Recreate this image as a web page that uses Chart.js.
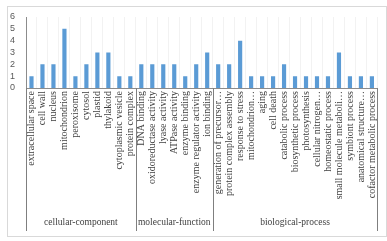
<!DOCTYPE html>
<html>
<head>
<meta charset="utf-8">
<script src="https://cdn.jsdelivr.net/npm/chart.js@4.4.0/dist/chart.umd.min.js"></script>
<style>
  html, body { margin: 0; padding: 0; background: #fff; }
  #wrap { width: 387px; height: 241px; }
</style>
</head>
<body>
<div id="wrap"><canvas id="chart" width="387" height="241"></canvas></div>
<script>
// 类别与数值
const categories = [
    'extracellular space', 'cell wall', 'nucleus', 'mitochondrion', 'peroxisome',
    'cytosol', 'plastid', 'thylakoid', 'cytoplasmic vesicle', 'protein complex',
    'DNA binding', 'oxidoreductase activity', 'lyase activity', 'ATPase activity',
    'enzyme binding', 'enzyme regulator activity', 'ion binding',
    'generation of precursor…', 'protein complex assembly', 'response to stress',
    'mitochondrion…', 'aging', 'cell death', 'catabolic process',
    'biosynthetic process', 'photosynthesis', 'cellular nitrogen…',
    'homeostatic process', 'small molecule metaboli…', 'symbiont process',
    'anatomical structure…', 'cofactor metabolic process'
];
const counts = [
    1, 2, 2, 5, 1, 2, 3, 3, 1, 1,
    2, 2, 2, 2, 1, 2, 3,
    2, 2, 4, 1, 1, 1, 2, 1, 1, 1, 1, 3, 1, 1, 1
];
const groupNames = ['cellular-component', 'molecular-function', 'biological-process'];
const groupSizes = [10, 7, 15];
const yTicks = [0, 1, 2, 3, 4, 5, 6];

// 分组标签与分隔线
const groupPlugin = {
    id: 'groupPlugin',
    afterDraw(chart) {
        const ctx = chart.ctx;
        const x = chart.scales.x;
        const area = chart.chartArea;
        const half = (x.getPixelForValue(1) - x.getPixelForValue(0)) / 2;
        ctx.save();
        // 外框
        ctx.strokeStyle = '#d9d9d9';
        ctx.lineWidth = 1;
        ctx.strokeRect(7.5, 6.5, 379, 230);
        // 分隔线
        ctx.strokeStyle = '#7f7f7f';
        let start = 0;
        const bounds = [0];
        groupSizes.forEach(n => { start += n; bounds.push(start); });
        bounds.forEach(b => {
            const px = Math.round(x.getPixelForValue(b) - half) + 0.5;
            ctx.beginPath();
            ctx.moveTo(px, area.bottom);
            ctx.lineTo(px, 231);
            ctx.stroke();
        });
        // 分组名称
        ctx.fillStyle = '#404040';
        ctx.font = '9.5px "Liberation Serif"';
        ctx.textAlign = 'center';
        ctx.textBaseline = 'middle';
        groupNames.forEach((name, i) => {
            const a = x.getPixelForValue(bounds[i]) - half;
            const b = x.getPixelForValue(bounds[i + 1]) - half;
            ctx.fillText(name, (a + b) / 2, 222);
        });
        ctx.restore();
    }
};

const canvas = document.getElementById('chart');
window.barChart = new Chart(canvas, {
    type: 'bar',
    data: {
        labels: categories,
        datasets: [{
            data: counts,
            backgroundColor: '#5b9bd5',
            barPercentage: 0.38,
            categoryPercentage: 1
        }]
    },
    options: {
        responsive: false,
        animation: false,
        layout: { padding: { left: 7, right: 6, top: 17, bottom: 5 } },
        plugins: {
            legend: { display: false },
            tooltip: { enabled: false }
        },
        scales: {
            x: {
                afterFit(scale) { scale.height = 148; },
                grid: { color: '#f2f2f2', drawTicks: false, offset: true },
                border: { display: true, color: '#8c8c8c' },
                ticks: {
                    autoSkip: false,
                    minRotation: 90,
                    maxRotation: 90,
                    padding: 3,
                    color: '#404040',
                    font: { family: 'Liberation Serif', size: 10 }
                }
            },
            y: {
                min: 0,
                max: 6,
                afterFit(scale) { scale.width = 19; },
                afterBuildTicks(scale) { scale.ticks = yTicks.map(v => ({ value: v })); },
                grid: { display: false },
                border: { display: true, color: '#8c8c8c' },
                ticks: {
                    autoSkip: false,
                    padding: 3,
                    color: '#595959',
                    font: { family: 'Liberation Sans', size: 9 }
                }
            }
        }
    },
    plugins: [groupPlugin]
});
</script>
</body>
</html>
